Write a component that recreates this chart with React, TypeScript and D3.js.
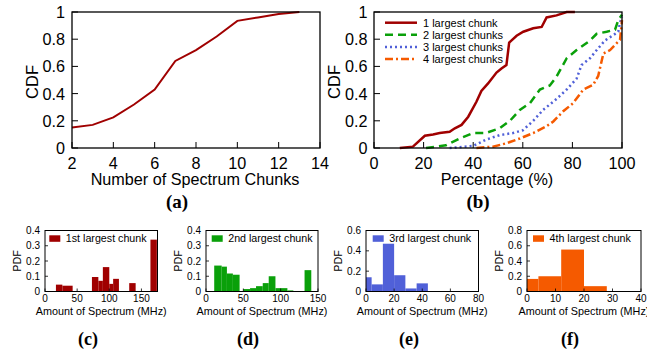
import React from "react";
import * as d3 from "d3";

// (a) CDF of number of spectrum chunks
const chunkCounts = [2, 3, 4, 5, 6, 7, 8, 9, 10, 11, 12, 13];
const chunkCdf = [0.15, 0.17, 0.225, 0.32, 0.43, 0.64, 0.72, 0.82, 0.935, 0.96, 0.985, 1.0];

// (b) CDF of percentage covered by the k largest chunks
const largest1: [number, number][] = [
  [10.4, 0], [15.7, 0.01], [20.5, 0.09], [23.8, 0.1], [26.5, 0.11], [30.5, 0.12],
  [32.6, 0.145], [35.3, 0.17], [38, 0.23], [41.3, 0.34], [43.3, 0.42], [46, 0.475],
  [49.4, 0.555], [51.4, 0.585], [53.4, 0.61], [54.5, 0.775], [57.5, 0.825],
  [60.2, 0.855], [64.2, 0.88], [67.6, 0.89], [69.6, 0.96], [73.6, 0.975],
  [77.7, 1.0], [81, 1.0],
];
const largest2: [number, number][] = [
  [21, 0], [29, 0.02], [34.6, 0.07], [40, 0.11], [45, 0.11], [50.7, 0.145],
  [54.8, 0.2], [58.8, 0.28], [62.9, 0.33], [66.9, 0.43], [70.9, 0.46],
  [73.6, 0.525], [77.7, 0.66], [81.7, 0.72], [87.1, 0.79], [89.8, 0.84],
  [93.8, 0.855], [97.2, 0.87], [98.5, 0.94], [100, 0.98],
];
const largest3: [number, number][] = [
  [30.5, 0], [40, 0.015], [45, 0.06], [50.7, 0.095], [56, 0.11], [60, 0.13],
  [64.2, 0.2], [68.2, 0.28], [73.6, 0.36], [77.7, 0.43], [81.7, 0.51],
  [83.7, 0.61], [87.1, 0.66], [89.8, 0.72], [93.1, 0.79], [96.5, 0.83],
  [98.5, 0.855], [99.2, 0.92], [100, 0.965],
];
const largest4: [number, number][] = [
  [41.3, 0], [48, 0.01], [53.4, 0.035], [58.8, 0.07], [64.2, 0.11], [69.6, 0.16],
  [72.3, 0.195], [76.3, 0.27], [80.3, 0.33], [84.4, 0.43], [88.4, 0.465],
  [90.4, 0.53], [92.5, 0.695], [95.2, 0.72], [97.8, 0.77], [99.2, 0.795],
  [100, 0.94],
];
const seriesNames = ["1 largest chunk", "2 largest chunks", "3 largest chunks", "4 largest chunks"];

// (c)-(f) PDFs: [bin start, bin end, value]
const pdf1st: [number, number, number][] = [
  [17, 27, 0.045], [27, 43, 0.038], [73, 83, 0.095], [83, 90, 0.07], [90, 100, 0.16],
  [100, 106, 0.05], [106, 115, 0.083], [131, 141, 0.055], [164, 174, 0.34],
];
const pdf2nd: [number, number, number][] = [
  [11, 21, 0.17], [21, 28, 0.163], [28, 36, 0.118], [36, 45, 0.11], [50, 59, 0.016],
  [59, 67, 0.022], [67, 76, 0.035], [76, 84, 0.055], [84, 93, 0.1], [93, 109, 0.022],
  [109, 117, 0.007], [117, 132, 0.002], [132, 141, 0.14],
];
const pdf3rd: [number, number, number][] = [
  [0, 4, 0.14], [4, 12, 0.07], [12, 20, 0.47], [20, 28, 0.16], [28, 36, 0.03], [36, 44, 0.08],
];
const pdf4th: [number, number, number][] = [
  [0, 4, 0.165], [4, 12, 0.2], [12, 20, 0.55], [20, 28, 0.07],
];

const SANS = "'Liberation Sans', Arial, Helvetica, sans-serif";
const SERIF = "'Liberation Serif', 'Times New Roman', serif";
const RED = "#a00000";
const GREEN = "#0aa00a";
const BLUE = "#5060d8";
const ORANGE = "#f55a00";

type Box = { x0: number; x1: number; y0: number; y1: number };

function Frame({ b, sw = 1.3 }: { b: Box; sw?: number }) {
  return (
    <rect x={b.x0} y={b.y0} width={b.x1 - b.x0} height={b.y1 - b.y0} fill="none" stroke="#000" strokeWidth={sw} />
  );
}

function CdfPanelA() {
  const b = { x0: 72, x1: 320, y0: 12, y1: 148 };
  const x = d3.scaleLinear().domain([2, 14]).range([b.x0, b.x1]);
  const y = d3.scaleLinear().domain([0, 1]).range([b.y1, b.y0]);
  const line = d3.line<number>().x((_, i) => x(chunkCounts[i])).y((d) => y(d));
  const xt = d3.range(2, 15, 2);
  const yt = [0, 0.2, 0.4, 0.6, 0.8, 1];
  return (
    <g fontFamily={SANS}>
      {xt.map((t) => (
        <g key={"x" + t}>
          <line x1={x(t)} x2={x(t)} y1={b.y1} y2={b.y1 - 6} stroke="#000" strokeWidth={1} />
          <text x={x(t)} y={168.5} fontSize={16.2} textAnchor="middle">{t}</text>
        </g>
      ))}
      {yt.map((t) => (
        <g key={"y" + t}>
          <line x1={b.x0} x2={b.x0 + 6} y1={y(t)} y2={y(t)} stroke="#000" strokeWidth={1} />
          <text x={b.x0 - 7} y={y(t) + 6} fontSize={16.2} textAnchor="end">{t}</text>
        </g>
      ))}
      <path d={line(chunkCdf) || ""} fill="none" stroke={RED} strokeWidth={2} />
      <Frame b={b} />
      <text x={195} y={184.5} fontSize={16.2} textAnchor="middle">Number of Spectrum Chunks</text>
      <text transform={`translate(38,82) rotate(-90)`} fontSize={16.5} textAnchor="middle">CDF</text>
      <text x={177} y={208} fontSize={19} fontWeight="bold" fontFamily={SERIF} textAnchor="middle">(a)</text>
    </g>
  );
}

function CdfPanelB() {
  const b = { x0: 374, x1: 622, y0: 12, y1: 148 };
  const x = d3.scaleLinear().domain([0, 100]).range([b.x0, b.x1]);
  const y = d3.scaleLinear().domain([0, 1]).range([b.y1, b.y0]);
  const line = d3.line<[number, number]>().x((d) => x(d[0])).y((d) => y(d[1]));
  const xt = d3.range(0, 101, 20);
  const yt = [0, 0.2, 0.4, 0.6, 0.8, 1];
  const series = [
    { data: largest1, color: RED, dash: undefined, w: 2.5 },
    { data: largest2, color: GREEN, dash: "8,5", w: 2.5 },
    { data: largest3, color: BLUE, dash: "2,3", w: 2.5 },
    { data: largest4, color: ORANGE, dash: "8,3,2,3", w: 2.5 },
  ];
  const rowY = [22.7, 34.8, 46.9, 59];
  return (
    <g fontFamily={SANS}>
      {xt.map((t) => (
        <g key={"x" + t}>
          <line x1={x(t)} x2={x(t)} y1={b.y1} y2={b.y1 - 6} stroke="#000" strokeWidth={1} />
          <text x={x(t)} y={168.5} fontSize={16.2} textAnchor="middle">{t}</text>
        </g>
      ))}
      {yt.map((t) => (
        <g key={"y" + t}>
          <line x1={b.x0} x2={b.x0 + 6} y1={y(t)} y2={y(t)} stroke="#000" strokeWidth={1} />
          <text x={b.x0 - 6.5} y={y(t) + 6} fontSize={16.2} textAnchor="end">{t}</text>
        </g>
      ))}
      {series.map((s, i) => (
        <path key={i} d={line(s.data) || ""} fill="none" stroke={s.color} strokeWidth={s.w} strokeDasharray={s.dash} />
      ))}
      {series.map((s, i) => (
        <g key={"l" + i}>
          <line x1={b.x0 + 11} x2={b.x0 + 43} y1={rowY[i]} y2={rowY[i]} stroke={s.color} strokeWidth={s.w} strokeDasharray={s.dash} />
          <text x={b.x0 + 49} y={rowY[i] + 4} fontSize={11}>{seriesNames[i]}</text>
        </g>
      ))}
      <Frame b={b} />
      <text x={497} y={184.5} fontSize={16.2} textAnchor="middle">Percentage (%)</text>
      <text transform={`translate(340,82) rotate(-90)`} fontSize={16.5} textAnchor="middle">CDF</text>
      <text x={478} y={208} fontSize={19} fontWeight="bold" fontFamily={SERIF} textAnchor="middle">(b)</text>
    </g>
  );
}

function Hist({ b, xMax, xTicks, yMax, yStep, bins, color, name, tag, legendX, labelX }: {
  b: Box; xMax: number; xTicks: number[]; yMax: number; yStep: number;
  bins: [number, number, number][]; color: string; name: string; tag: string;
  legendX: number; labelX: number;
}) {
  const x = d3.scaleLinear().domain([0, xMax]).range([b.x0, b.x1]);
  const y = d3.scaleLinear().domain([0, yMax]).range([b.y1, b.y0]);
  const yt = d3.range(0, yMax + 1e-9, yStep).map((v) => +v.toFixed(2));
  const cx = (b.x0 + b.x1) / 2;
  return (
    <g fontFamily={SANS}>
      {bins.map((d, i) => (
        <rect key={i} x={x(d[0])} y={y(d[2])} width={x(d[1]) - x(d[0])} height={b.y1 - y(d[2])} fill={color} />
      ))}
      {xTicks.map((t) => (
        <g key={"x" + t}>
          <line x1={x(t)} x2={x(t)} y1={b.y1} y2={b.y1 - 3} stroke="#000" strokeWidth={0.8} />
          <text x={x(t)} y={302} fontSize={10} textAnchor="middle">{t}</text>
        </g>
      ))}
      {yt.map((t) => (
        <g key={"y" + t}>
          <line x1={b.x0} x2={b.x0 + 3} y1={y(t)} y2={y(t)} stroke="#000" strokeWidth={0.8} />
          <text x={b.x0 - 5} y={y(t) + 3.6} fontSize={10} textAnchor="end">{t}</text>
        </g>
      ))}
      <rect x={b.x0 + legendX} y={b.y0 + 4.8} width={11} height={6.5} fill={color} />
      <text x={b.x0 + legendX + 16.5} y={b.y0 + 11.6} fontSize={10.7}>{name}</text>
      <Frame b={b} sw={1} />
      <text x={cx} y={315} fontSize={10.8} textAnchor="middle">Amount of Spectrum (MHz)</text>
      <text transform={`translate(${b.x0 - 24},${(b.y0 + b.y1) / 2}) rotate(-90)`} fontSize={10.8} textAnchor="middle">PDF</text>
      <text x={labelX} y={345} fontSize={18} fontWeight="bold" fontFamily={SERIF} textAnchor="middle">{tag}</text>
    </g>
  );
}

export default function App() {
  const y0 = 230.5, y1 = 291.5;
  return (
    <svg width={647} height={352} style={{ position: "absolute", left: 0, top: 0, background: "#fff" }}>
      <CdfPanelA />
      <CdfPanelB />
      <Hist b={{ x0: 45, x1: 157.5, y0, y1 }} xMax={175} xTicks={[0, 50, 100, 150]} yMax={0.4} yStep={0.1}
        bins={pdf1st} color={RED} name="1st largest chunk" tag="(c)" legendX={4.3} labelX={88} />
      <Hist b={{ x0: 206, x1: 318, y0, y1 }} xMax={150} xTicks={[0, 50, 100, 150]} yMax={0.4} yStep={0.1}
        bins={pdf2nd} color={GREEN} name="2nd largest chunk" tag="(d)" legendX={5.7} labelX={248} />
      <Hist b={{ x0: 366, x1: 478.5, y0, y1 }} xMax={80} xTicks={[0, 20, 40, 60, 80]} yMax={0.6} yStep={0.2}
        bins={pdf3rd} color={BLUE} name="3rd largest chunk" tag="(e)" legendX={6.7} labelX={409} />
      <Hist b={{ x0: 527, x1: 641, y0, y1 }} xMax={40} xTicks={[0, 10, 20, 30, 40]} yMax={0.8} yStep={0.2}
        bins={pdf4th} color={ORANGE} name="4th largest chunk" tag="(f)" legendX={6} labelX={570} />
    </svg>
  );
}
